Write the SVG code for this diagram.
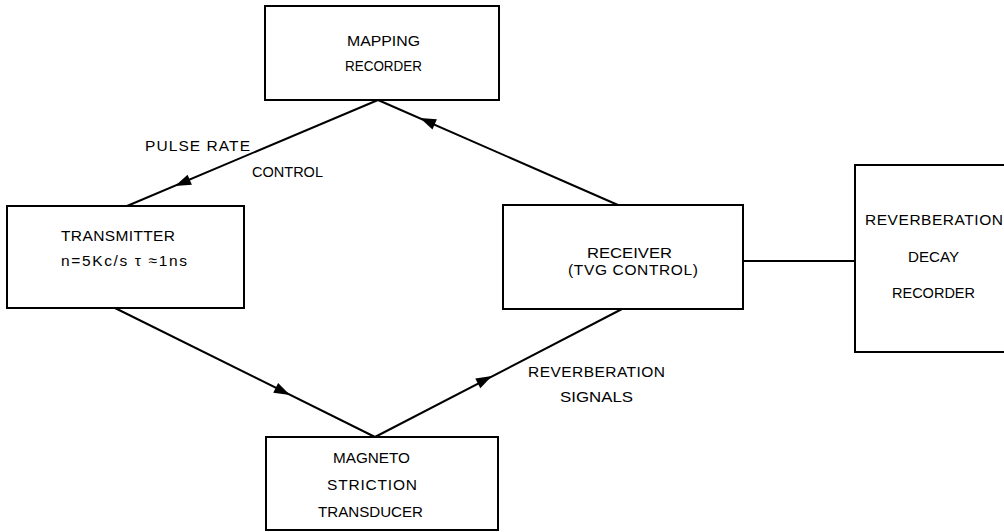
<svg xmlns="http://www.w3.org/2000/svg" xmlns:xlink="http://www.w3.org/1999/xlink" width="1004" height="532" viewBox="0 0 1004 532">
<style>
.box{fill:none;stroke:#000;stroke-width:2}
.ln{fill:none;stroke:#000;stroke-width:2}
text{font-family:"Liberation Sans",Arial,sans-serif;font-size:15.5px;fill:#000}
.sq{letter-spacing:0}
</style>
<defs>
<path id="ah" d="M0,0 L-16,-5.5 L-16,5.5 Z" fill="#000"/>
</defs>
<rect width="1004" height="532" fill="#fff"/>
<g id="connectors">
<path class="ln" d="M378,100 L127,206"/>
<path class="ln" d="M378,100 L618,205"/>
<path class="ln" d="M115,308 L375,437"/>
<path class="ln" d="M375,437 L622,309"/>
<path class="ln" d="M743,261 L855,261"/>
<use xlink:href="#ah" transform="translate(175,186) rotate(157.1)"/>
<use xlink:href="#ah" transform="translate(420,118) rotate(-156.4)"/>
<use xlink:href="#ah" transform="translate(290,395) rotate(26.4)"/>
<use xlink:href="#ah" transform="translate(492,376) rotate(-27.4)"/>
<text x="145" y="151" textLength="105">PULSE RATE</text>
<text x="252" y="177" textLength="71" lengthAdjust="spacingAndGlyphs">CONTROL</text>
<text x="528" y="377" textLength="137">REVERBERATION</text>
<text x="560" y="402" textLength="73" lengthAdjust="spacingAndGlyphs">SIGNALS</text>
</g>
<g id="mapping-recorder">
<rect class="box" x="265" y="6" width="234" height="94"/>
<text x="347" y="46" textLength="73" lengthAdjust="spacingAndGlyphs">MAPPING</text>
<text x="345" y="71" textLength="77" lengthAdjust="spacingAndGlyphs">RECORDER</text>
</g>
<g id="transmitter">
<rect class="box" x="7" y="206" width="237" height="102"/>
<text x="61" y="241" textLength="114">TRANSMITTER</text>
<text x="61" y="266" textLength="126">n=5Kc/s τ ≈1ns</text>
</g>
<g id="receiver">
<rect class="box" x="503" y="205" width="240" height="104"/>
<text x="587" y="258" textLength="85" lengthAdjust="spacingAndGlyphs">RECEIVER</text>
<text x="568" y="275" textLength="130">(TVG CONTROL)</text>
</g>
<g id="reverberation-decay-recorder">
<path class="box" d="M1006,165 H855 V352 H1006"/>
<text x="865" y="225" textLength="138">REVERBERATION</text>
<text x="908" y="262" textLength="51" lengthAdjust="spacingAndGlyphs">DECAY</text>
<text x="892" y="298" textLength="83" lengthAdjust="spacingAndGlyphs">RECORDER</text>
</g>
<g id="magneto-striction-transducer">
<rect class="box" x="266" y="437" width="232" height="93"/>
<text x="333" y="463" textLength="77" lengthAdjust="spacingAndGlyphs">MAGNETO</text>
<text x="327" y="490" textLength="90">STRICTION</text>
<text x="318" y="517" textLength="105" lengthAdjust="spacingAndGlyphs">TRANSDUCER</text>
</g>
</svg>
